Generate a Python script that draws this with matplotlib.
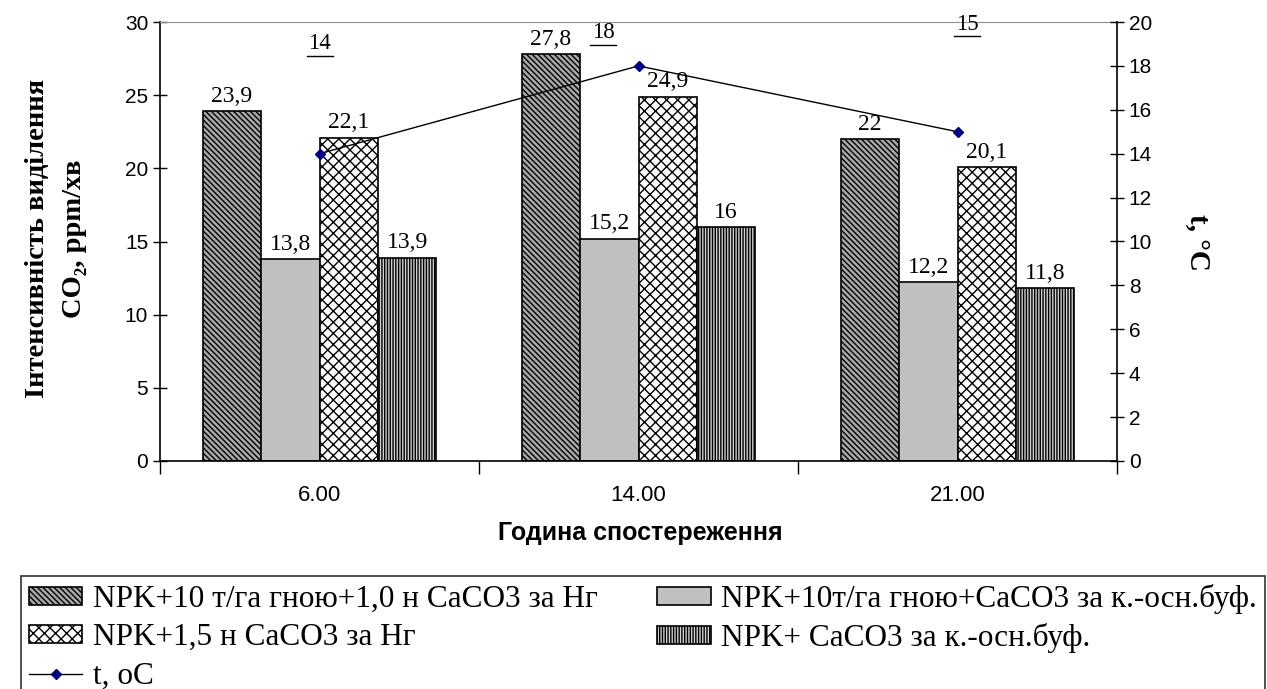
import numpy as np
import matplotlib.pyplot as plt
import matplotlib.transforms as mtransforms

plt.rcParams['hatch.linewidth'] = 1.0

hours = ['6.00', '14.00', '21.00']
series_names = [
    'NPK+10 т/га гною+1,0 н CaCO3 за Нг',
    'NPK+10т/га гною+CaCO3 за к.-осн.буф.',
    'NPK+1,5 н CaCO3 за Нг',
    'NPK+ CaCO3 за к.-осн.буф.',
]
co2 = [
    [23.9, 27.8, 22.0],
    [13.8, 15.2, 12.2],
    [22.1, 24.9, 20.1],
    [13.9, 16.0, 11.8],
]
temp = [14, 18, 15]
temp_name = 't, oC'

faces = ['#a8a8a8', '#c0c0c0', 'white', '#d0d0d0']
hatches = ['\\\\\\\\\\\\', None, 'xxx', '||||||']

serif = ['Liberation Serif', 'DejaVu Serif']
sans = ['Liberation Sans', 'DejaVu Sans']

def fmt(v):
    s = ('%.1f' % v).rstrip('0').rstrip('.')
    return s.replace('.', ',')

fig = plt.figure(figsize=(12.67, 6.89), dpi=100)
ax = fig.add_axes([160/1267, 1-461/689, 957/1267, 439/689])

x = np.arange(len(hours))
w = 0.183
bars = []
for i, vals in enumerate(co2):
    b = ax.bar(x + (i - 1.5) * w, vals, w, color=faces[i], hatch=hatches[i],
               edgecolor='black', linewidth=1.2, label=series_names[i])
    bars.append(b)
    for xi, v in zip(x + (i - 1.5) * w, vals):
        ax.annotate(fmt(v), (xi, v), xytext=(0, 3), textcoords='offset points',
                    ha='center', va='bottom', fontsize=17, family=serif)

ax.set_xlim(-0.5, 2.5)
ax.set_ylim(0, 30)
ax.set_yticks(range(0, 31, 5))
ax.set_xticks(x)
ax.set_xticklabels(hours, family=sans, fontsize=16)
ax.set_xticks(np.arange(-0.5, 2.6, 1), minor=True)
ax.tick_params(axis='x', which='major', length=0, pad=17)
ax.tick_params(axis='x', which='minor', length=9, width=1, direction='out')
ax.tick_params(axis='y', direction='inout', length=10, width=1, labelsize=15)
for lab in ax.get_yticklabels():
    lab.set_family(sans)
ax.spines['top'].set_color('#909090')
ax.spines['right'].set_visible(False)
ax.spines['left'].set_linewidth(1.2)
ax.spines['bottom'].set_linewidth(1.2)

fig.text(640/1267, 1-533/689, 'Година спостереження', family=sans,
         fontsize=18, fontweight='bold', ha='center', va='center')
fig.text(56/1267, 1-239/689, 'Інтенсивність виділення\nCO₂, ppm/хв',
         family=serif, fontsize=20.5, fontweight='bold', rotation=90,
         ha='center', va='center', linespacing=1.6, multialignment='center')

ax2 = ax.twinx()
ax2.set_ylim(0, 20)
ax2.set_yticks(range(0, 21, 2))
ax2.tick_params(axis='y', direction='inout', length=10, width=1, labelsize=15)
for lab in ax2.get_yticklabels():
    lab.set_family(sans)
for s in ['left', 'top', 'bottom']:
    ax2.spines[s].set_visible(False)
ax2.spines['right'].set_linewidth(1.2)
line, = ax2.plot(x, temp, color='black', lw=1, marker='D', ms=5.5,
                 mfc='#000080', mec='#000080', label=temp_name)
fig.text(1197/1267, 1-242/689, 't, °C', family=serif, fontsize=21,
         fontweight='bold', rotation=270, ha='center', va='center')

# underlined temperature labels along the top
label_pos = [(0.0, 19.0), (0.89, 19.5), (2.03, 19.9)]
for (lx, ly), t in zip(label_pos, temp):
    ax2.text(lx, ly, str(t), ha='center', va='center', fontsize=16.5,
             family=serif)
    tr = fig.dpi_scale_trans + mtransforms.ScaledTranslation(lx, ly, ax2.transData)
    ax2.plot([-0.13, 0.13], [-0.12, -0.12], color='black', lw=1,
             transform=tr, clip_on=False)

handles = [bars[0], bars[2], line, bars[1], bars[3]]
labels = [series_names[0], series_names[2], temp_name,
          series_names[1], series_names[3]]
leg = fig.legend(handles, labels, ncol=2, loc='upper right',
                 bbox_to_anchor=(1265/1267, 1-576/689),
                 prop={'family': serif, 'size': 22.5},
                 frameon=True, fancybox=False, edgecolor='black',
                 handlelength=1.7, handleheight=0.5, borderaxespad=0,
                 labelspacing=0.3, handletextpad=0.35, borderpad=0.25,
                 columnspacing=1.9)
leg.get_frame().set_linewidth(1.2)

fig.savefig('out.png', dpi=100)
